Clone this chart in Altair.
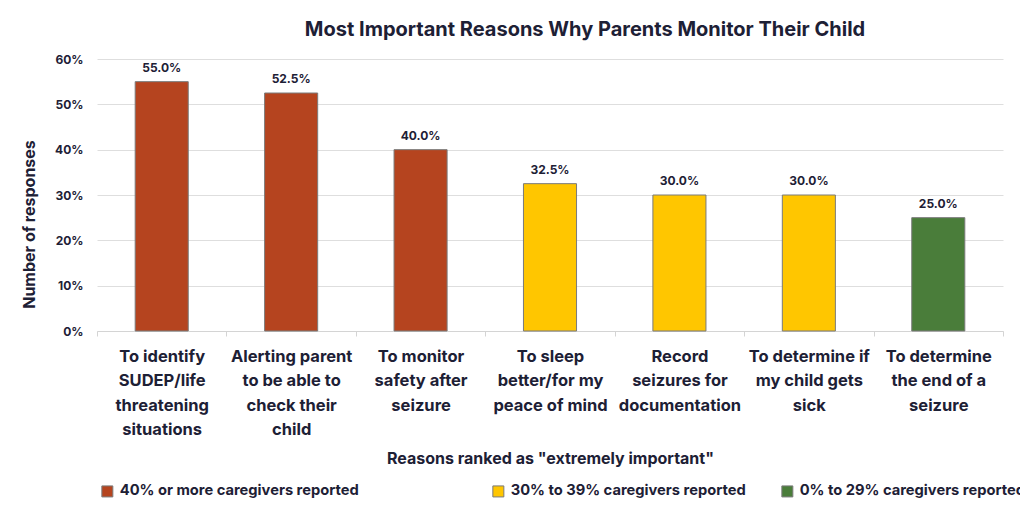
import altair as alt
import pandas as pd

categories = [
    "To identify|SUDEP/life|threatening|situations",
    "Alerting parent|to be able to|check their|child",
    "To monitor|safety after|seizure",
    "To sleep|better/for my|peace of mind",
    "Record|seizures for|documentation",
    "To determine if|my child gets|sick",
    "To determine|the end of a|seizure",
]
values = [0.55, 0.525, 0.40, 0.325, 0.30, 0.30, 0.25]
group_order = [
    "40% or more caregivers reported",
    "30% to 39% caregivers reported",
    "0% to 29% caregivers reported",
]
groups = [group_order[0]] * 3 + [group_order[1]] * 3 + [group_order[2]]
group_colors = ["#B5441F", "#FFC600", "#4A7D3A"]
y_ticks = [0, 0.1, 0.2, 0.3, 0.4, 0.5, 0.6]

df = pd.DataFrame({"cat": categories, "val": values, "group": groups})

FONT = "Inter"
TXT = "#1d2035"

x_enc = alt.X(
    "cat:N",
    sort=None,
    scale=alt.Scale(paddingInner=0, paddingOuter=0),
    axis=alt.Axis(
        title='Reasons ranked as "extremely important"',
        labelAngle=0,
        tickBand="extent",
        domainColor="#d4d4d4",
        tickColor="#d4d4d4",
        tickSize=5,
        labelFontSize=16.5,
        labelFontWeight="bold",
        labelLineHeight=24.5,
        labelPadding=12,
        labelLimit=0,
        labelColor=TXT,
        labelExpr="split(datum.label, '|')",
        titleFontSize=16,
        titleFontWeight="bold",
        titleColor=TXT,
        titleY=132,
        titleBaseline="alphabetic",
    ),
)

y_enc = alt.Y(
    "val:Q",
    scale=alt.Scale(domain=[0, 0.6]),
    axis=alt.Axis(
        values=y_ticks,
        format=".0%",
        domain=False,
        ticks=False,
        labelPadding=14,
        labelFontSize=12,
        labelFontWeight="bold",
        labelColor=TXT,
        gridColor="#dedede",
        title="Number of responses",
        titleFontSize=16,
        titleFontWeight="bold",
        titleColor=TXT,
        titleX=-60,
        titleY=165,
        titleAlign="center",
        titleBaseline="bottom",
    ),
)

pad_spaces = "\u00a0" * 28 + "\u200b"
legend_expr = (
    "datum.label == '" + group_order[0] + "' ? datum.label + '" + pad_spaces + "' : datum.label"
)

color_enc = alt.Color(
    "group:N",
    scale=alt.Scale(domain=group_order, range=group_colors),
    title=None,
    legend=alt.Legend(
        orient="none",
        legendX=3,
        legendY=425,
        direction="horizontal",
        columns=3,
        symbolType="square",
        symbolSize=121,
        symbolStrokeColor="#7a7a7a",
        symbolStrokeWidth=1,
        labelFontSize=14.7,
        labelFontWeight="bold",
        labelColor=TXT,
        labelOffset=5,
        labelLimit=0,
        columnPadding=33,
        labelExpr=legend_expr,
    ),
)

bars = alt.Chart(df).mark_bar(
    width=alt.RelativeBandSize(0.41), stroke="#7a7a7a", strokeWidth=1
).encode(x=x_enc, y=y_enc, color=color_enc)

labels = alt.Chart(df).mark_text(
    dy=-10, baseline="alphabetic", fontSize=12, fontWeight="bold", color=TXT, font=FONT
).encode(x=alt.X("cat:N", sort=None), y="val:Q", text=alt.Text("val:Q", format=".1%"))

chart = (
    alt.layer(bars, labels)
    .properties(
        width=906,
        height=272,
        autosize=alt.AutoSizeParams(type="none"),
        padding={"left": 89, "top": 51, "right": 17, "bottom": 192},
        background="white",
        title=alt.TitleParams(
            "Most Important Reasons Why Parents Monitor Their Child",
            fontSize=20,
            fontWeight="bold",
            color=TXT,
            font=FONT,
            anchor="middle",
            dx=35,
            offset=13,
        ),
    )
    .configure(font=FONT)
    .configure_view(stroke=None)
    .configure_axis(labelFont=FONT, titleFont=FONT)
    .configure_legend(labelFont=FONT)
)

chart.save("out.html", embed_options={"renderer": "svg", "actions": False})
